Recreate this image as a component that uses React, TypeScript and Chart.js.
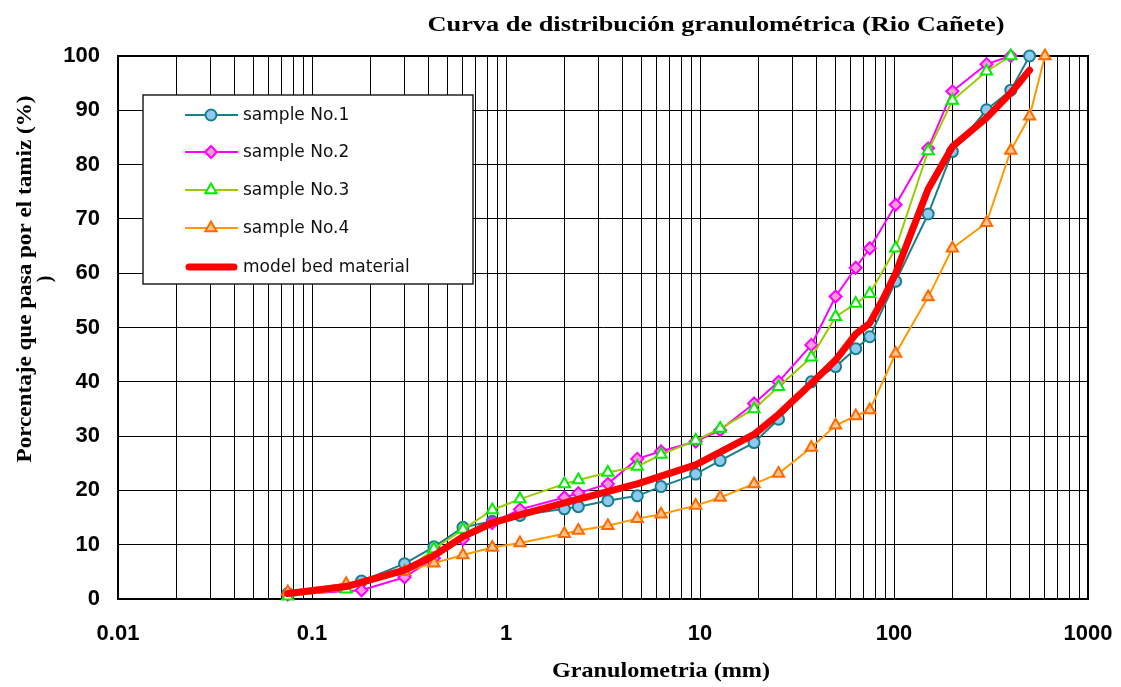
import React, { useEffect, useRef } from "react";
import { Chart, registerables } from "chart.js";

Chart.register(...registerables);

// ---------- text ----------
const chartTitle = "Curva de distribución granulométrica (Rio Cañete)";
const xAxisTitle = "Granulometria (mm)";
const yAxisTitle = "Porcentaje que pasa por el tamiz (%)";
const yAxisTitleWrap = ")";
const xTickLabels = ["0.01", "0.1", "1", "10", "100", "1000"];
const yTickLabels = ["0", "10", "20", "30", "40", "50", "60", "70", "80", "90", "100"];
const seriesNames = ["sample No.1", "sample No.2", "sample No.3", "sample No.4", "model bed material"];

// ---------- data (grain size mm / % passing) ----------
const sample1Size = [0.075, 0.18, 0.3, 0.425, 0.6, 0.85, 1.18, 2, 2.36, 3.35, 4.75, 6.3, 9.5, 12.7, 19, 25.4, 37.5, 50, 63.5, 75, 102, 150, 200, 300, 400, 500];
const sample1Pass = [1.0, 3.3, 6.5, 9.6, 13.2, 14.3, 15.4, 16.6, 17.0, 18.1, 19.0, 20.7, 23.0, 25.5, 28.8, 33.1, 40.0, 42.8, 46.1, 48.3, 58.5, 70.9, 82.4, 90.1, 93.7, 100];

const sample2Size = [0.075, 0.18, 0.3, 0.425, 0.6, 0.85, 1.18, 2, 2.36, 3.35, 4.75, 6.3, 9.5, 12.7, 19, 25.4, 37.5, 50, 63.5, 75, 102, 150, 200, 300, 400];
const sample2Pass = [0.8, 1.6, 4.0, 7.5, 11.0, 14.0, 16.5, 18.7, 19.5, 21.2, 25.8, 27.2, 29.0, 31.1, 36.0, 40.0, 46.8, 55.7, 61.0, 64.6, 72.6, 83.0, 93.5, 98.5, 100];

const sample3Size = [0.075, 0.15, 0.3, 0.425, 0.6, 0.85, 1.18, 2, 2.36, 3.35, 4.75, 6.3, 9.5, 12.7, 19, 25.4, 37.5, 50, 63.5, 75, 102, 150, 200, 300, 400];
const sample3Pass = [0.5, 1.8, 5.0, 9.2, 12.8, 16.4, 18.4, 21.2, 21.9, 23.3, 24.4, 26.6, 29.2, 31.4, 35.0, 39.1, 44.5, 52.0, 54.4, 56.2, 64.6, 82.5, 91.8, 97.2, 100];

const sample4Size = [0.075, 0.15, 0.3, 0.425, 0.6, 0.85, 1.18, 2, 2.36, 3.35, 4.75, 6.3, 9.5, 12.7, 19, 25.4, 37.5, 50, 63.5, 75, 102, 150, 200, 300, 400, 500, 600];
const sample4Pass = [1.3, 2.8, 5.0, 6.6, 8.1, 9.5, 10.3, 12.0, 12.6, 13.5, 14.8, 15.6, 17.2, 18.7, 21.2, 23.1, 27.9, 32.0, 33.7, 34.8, 45.2, 55.6, 64.6, 69.3, 82.6, 88.9, 100];

const modelSize = [0.075, 0.15, 0.3, 0.425, 0.6, 0.85, 1.18, 2, 4.75, 9.5, 19, 25.4, 37.5, 50, 63.5, 75, 88, 102, 150, 200, 300, 400, 500];
const modelPass = [1.0, 2.3, 5.3, 8.0, 11.5, 14.0, 15.5, 17.7, 21.2, 24.7, 30.3, 34.0, 39.7, 44.0, 48.8, 50.8, 55.3, 60.0, 75.5, 83.3, 88.6, 93.2, 97.4];

// ---------- helpers ----------
const toPoints = (xs: number[], ys: number[]) => xs.map((x, i) => ({ x, y: ys[i] }));

const xMajorValues = xTickLabels.map((t) => parseFloat(t));
const xGridValues: number[] = [];
for (let i = 0; i < xMajorValues.length - 1; i++) {
  for (let m = 1; m <= 9; m++) xGridValues.push(xMajorValues[i] * m);
}
xGridValues.push(xMajorValues[xMajorValues.length - 1]);

const xLabelFor = (v: number) => {
  const i = xMajorValues.findIndex((m) => Math.abs(m - v) < m * 1e-6);
  return i >= 0 ? xTickLabels[i] : "";
};

function fitText(ctx: CanvasRenderingContext2D, text: string, cx: number, cy: number, target: number, rot: number, font: string) {
  ctx.save();
  ctx.font = font;
  const w = ctx.measureText(text).width;
  ctx.translate(cx, cy);
  ctx.rotate(rot);
  ctx.scale(target / w, 1);
  ctx.textAlign = "center";
  ctx.textBaseline = "middle";
  ctx.fillStyle = "#000";
  ctx.fillText(text, 0, 0);
  ctx.restore();
}

function drawMarker(ctx: CanvasRenderingContext2D, style: string, r: number, x: number, y: number) {
  ctx.beginPath();
  if (style === "circle") {
    ctx.arc(x, y, r, 0, Math.PI * 2);
  } else if (style === "rectRot") {
    ctx.moveTo(x, y - r);
    ctx.lineTo(x + r, y);
    ctx.lineTo(x, y + r);
    ctx.lineTo(x - r, y);
    ctx.closePath();
  } else if (style === "triangle") {
    let a = 0;
    ctx.moveTo(x + Math.sin(a) * r, y - Math.cos(a) * r);
    a += (2 * Math.PI) / 3;
    ctx.lineTo(x + Math.sin(a) * r, y - Math.cos(a) * r);
    a += (2 * Math.PI) / 3;
    ctx.lineTo(x + Math.sin(a) * r, y - Math.cos(a) * r);
    ctx.closePath();
  }
  ctx.fill();
  ctx.stroke();
}

const decorPlugin = {
  id: "decor",
  beforeDatasetsDraw(chart: any) {
    const { ctx, chartArea: a } = chart;
    ctx.save();
    ctx.strokeStyle = "#000";
    ctx.lineWidth = 2;
    ctx.strokeRect(a.left, a.top, a.right - a.left, a.bottom - a.top);
    ctx.restore();
  },
  afterDraw(chart: any) {
    const ctx: CanvasRenderingContext2D = chart.ctx;
    fitText(ctx, chartTitle, 716, 26, 577, 0, "bold 21px 'Liberation Serif'");
    fitText(ctx, xAxisTitle, 661, 672, 218, 0, "bold 21px 'Liberation Serif'");
    fitText(ctx, yAxisTitle, 26, 279, 367, -Math.PI / 2, "bold 20px 'Liberation Serif'");
    ctx.save();
    ctx.translate(46, 279);
    ctx.rotate(-Math.PI / 2);
    ctx.font = "bold 20px 'Liberation Serif'";
    ctx.textAlign = "center";
    ctx.textBaseline = "middle";
    ctx.fillStyle = "#000";
    ctx.fillText(yAxisTitleWrap, 0, 0);
    ctx.restore();

    // legend box
    ctx.save();
    ctx.fillStyle = "#fff";
    ctx.fillRect(143, 95, 330, 189);
    ctx.strokeStyle = "#222";
    ctx.lineWidth = 1.5;
    ctx.strokeRect(143, 95, 330, 189);
    const rows = [115, 152, 190, 228, 267];
    chart.data.datasets.forEach((ds: any, i: number) => {
      const y = rows[i];
      ctx.save();
      ctx.strokeStyle = ds.borderColor;
      ctx.lineWidth = ds.borderWidth;
      ctx.lineCap = ds.borderCapStyle || "butt";
      ctx.beginPath();
      ctx.moveTo(ds.pointRadius ? 185 : 189, y);
      ctx.lineTo(ds.pointRadius ? 238 : 234, y);
      ctx.stroke();
      if (ds.pointRadius) {
        ctx.fillStyle = ds.pointBackgroundColor;
        ctx.strokeStyle = ds.pointBorderColor;
        ctx.lineWidth = ds.pointBorderWidth;
        drawMarker(ctx, ds.pointStyle, ds.pointRadius, 211, y);
      }
      ctx.restore();
      ctx.font = "17px 'DejaVu Sans'";
      ctx.fillStyle = "#111";
      ctx.textAlign = "left";
      ctx.textBaseline = "middle";
      ctx.fillText(ds.label, 243, y + 1);
    });
    ctx.restore();
  },
};

export default function App() {
  const ref = useRef<HTMLCanvasElement>(null);
  useEffect(() => {
    document.body.style.margin = "0";
    const canvas = ref.current!;
    const common = { tension: 0, clip: false as any, borderWidth: 2, pointBorderWidth: 2 };
    const chart = new Chart(canvas, {
      type: "line",
      data: {
        datasets: [
          {
            ...common,
            label: seriesNames[0],
            data: toPoints(sample1Size, sample1Pass),
            borderColor: "#17808c",
            pointStyle: "circle",
            pointRadius: 5.5,
            pointBackgroundColor: "#8ec9f2",
            pointBorderColor: "#17808c",
            order: 4,
          },
          {
            ...common,
            label: seriesNames[1],
            data: toPoints(sample2Size, sample2Pass),
            borderColor: "#ff00ff",
            pointStyle: "rectRot",
            pointRadius: 6,
            pointBackgroundColor: "#ff9ad8",
            pointBorderColor: "#ff00ff",
            order: 3,
          },
          {
            ...common,
            label: seriesNames[2],
            data: toPoints(sample3Size, sample3Pass),
            borderColor: "#99cc00",
            pointStyle: "triangle",
            pointRadius: 6.5,
            pointBackgroundColor: "#ffffff",
            pointBorderColor: "#00ee00",
            order: 2,
          },
          {
            ...common,
            label: seriesNames[3],
            data: toPoints(sample4Size, sample4Pass),
            borderColor: "#ff9900",
            pointStyle: "triangle",
            pointRadius: 6.5,
            pointBackgroundColor: "#ffc58a",
            pointBorderColor: "#ff6a00",
            order: 1,
          },
          {
            ...common,
            label: seriesNames[4],
            data: toPoints(modelSize, modelPass),
            borderColor: "#ff0000",
            borderWidth: 7,
            borderCapStyle: "round",
            borderJoinStyle: "round",
            pointRadius: 0,
            order: 0,
          },
        ] as any,
      },
      options: {
        animation: false,
        responsive: true,
        maintainAspectRatio: false,
        layout: { padding: { top: 56, right: 33, left: 0, bottom: 0 } },
        plugins: {
          legend: { display: false },
          title: { display: false },
          tooltip: { enabled: false },
        },
        scales: {
          x: {
            type: "logarithmic",
            min: 0.01,
            max: 1000,
            afterBuildTicks: (s: any) => {
              s.ticks = xGridValues.map((v) => ({ value: v }));
            },
            afterFit: (s: any) => {
              s.height = 88;
              s.paddingLeft = 0;
              s.paddingRight = 0;
            },
            ticks: {
              autoSkip: false,
              maxRotation: 0,
              minRotation: 0,
              padding: 22,
              color: "#000",
              font: { family: "'Liberation Sans'", size: 22, weight: "bold" },
              callback: (v: any) => xLabelFor(Number(v)),
            },
            grid: { color: "#000", lineWidth: 1, drawTicks: false },
            border: { display: true, color: "#000", width: 2 },
          },
          y: {
            type: "linear",
            min: 0,
            max: 100,
            afterFit: (s: any) => {
              s.width = 118;
              s.paddingTop = 0;
              s.paddingBottom = 0;
            },
            ticks: {
              stepSize: 10,
              padding: 18,
              color: "#000",
              font: { family: "'Liberation Sans'", size: 22, weight: "bold" },
              callback: (v: any) => yTickLabels[Math.round(Number(v) / 10)] ?? "",
            },
            grid: { color: "#000", lineWidth: 1, drawTicks: false },
            border: { display: true, color: "#000", width: 2 },
          },
        } as any,
      },
      plugins: [decorPlugin as any],
    });
    return () => chart.destroy();
  }, []);
  return (
    <div style={{ position: "fixed", left: 0, top: 0, width: 1121, height: 687 }}>
      <canvas ref={ref} />
    </div>
  );
}
